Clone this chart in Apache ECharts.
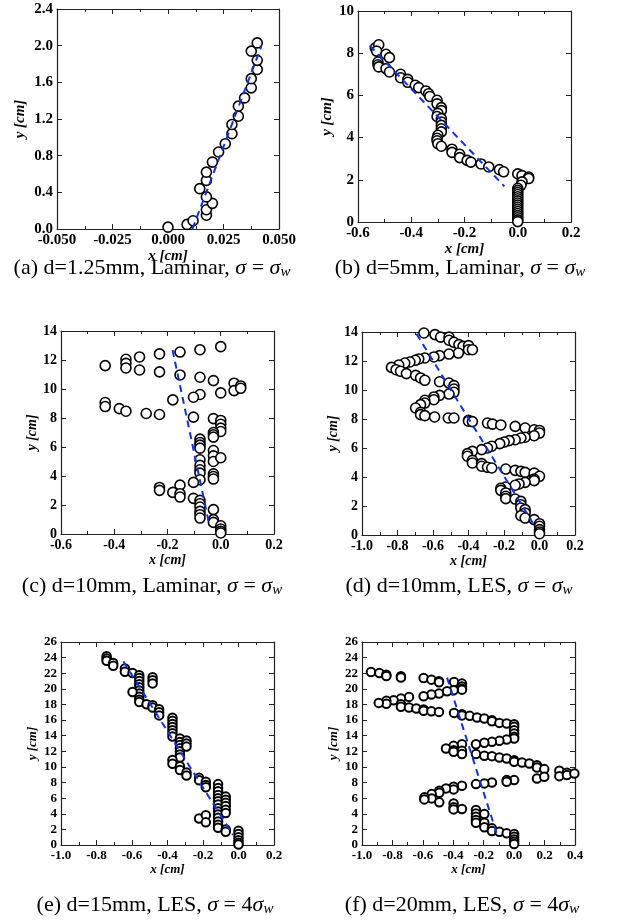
<!DOCTYPE html>
<html><head><meta charset="utf-8">
<script src="https://cdn.jsdelivr.net/npm/echarts@6/dist/echarts.min.js"></script>
<style>html,body{margin:0;padding:0;background:#fff}#c{width:618px;height:923px}</style>
</head><body><div id="c"></div>
<script>
// ---------- DATA ----------
// (a) d=1.25mm, Laminar
const aX = [0.000,0.0086,0.0113,0.0173,0.0173,0.020,0.0173,0.0143,0.0173,0.0173,0.020,0.0228,0.0258,0.0288,0.0288,0.0317,0.0317,0.0345,0.0375,0.0375,0.0402,0.0402,0.0375,0.0402];
const aY = [0.02,0.05,0.09,0.15,0.21,0.28,0.35,0.44,0.53,0.62,0.73,0.84,0.93,1.04,1.14,1.23,1.34,1.43,1.54,1.64,1.74,1.84,1.94,2.03];
const aFitX = [0.011, 0.042];
const aFitY = [0.0, 1.99];

// (b) d=5mm, Laminar
const bX = [-0.535,-0.522,-0.530,-0.495,-0.482,-0.525,-0.525,-0.522,-0.495,-0.482,-0.44,-0.44,-0.413,-0.413,-0.385,-0.372,-0.345,-0.335,-0.330,-0.303,-0.303,-0.287,-0.287,-0.30,-0.303,-0.287,-0.287,-0.287,-0.287,-0.287,-0.30,-0.303,-0.303,-0.30,-0.287,-0.247,-0.247,-0.218,-0.218,-0.19,-0.176,-0.138,-0.109,-0.069,-0.053,0.0,0.016,0.041,0.041,0.016,0.012,0,0,0,0,0,0,0,0,0,0,0,0,0,0,0,0,0];
const bY = [8.25,8.40,8.10,7.95,7.79,7.58,7.45,7.35,7.27,7.11,7.0,6.84,6.76,6.62,6.48,6.37,6.21,6.08,5.95,5.77,5.60,5.42,5.28,5.15,5.0,4.90,4.74,4.58,4.42,4.27,4.11,3.97,3.85,3.71,3.59,3.45,3.30,3.21,3.05,2.92,2.84,2.75,2.61,2.48,2.38,2.28,2.20,2.13,2.06,1.90,1.74,1.60,1.50,1.40,1.30,1.20,1.10,1.00,0.90,0.80,0.70,0.60,0.50,0.40,0.30,0.20,0.10,0.02];
const bFitX = [-0.556, -0.05];
const bFitY = [8.37, 1.69];

// (c) d=10mm, Laminar
const cX = [-0.434,-0.356,-0.356,-0.356,-0.305,-0.305,-0.23,-0.23,-0.153,-0.153,-0.078,-0.078,0.0,-0.0275,0.05,0.05,0.075,0.075,0.0,-0.078,-0.1025,-0.18,-0.434,-0.434,-0.381,-0.356,-0.28,-0.23,-0.1025,-0.0275,0,0,0,0,-0.0275,-0.0275,-0.0275,-0.078,-0.078,-0.078,-0.078,-0.0275,-0.0275,-0.0275,0,-0.078,-0.078,-0.078,-0.078,-0.0275,-0.0275,-0.0275,-0.078,-0.1025,-0.153,-0.23,-0.23,-0.18,-0.153,-0.153,-0.1025,-0.078,-0.078,-0.078,-0.078,-0.078,-0.078,-0.0275,-0.0275,-0.0275,0,0,0,0];
const cY = [11.61,12.05,11.77,11.45,12.21,11.31,12.42,11.18,12.55,10.97,12.71,10.81,12.92,10.58,10.40,9.89,10.21,10.05,9.73,9.62,9.43,9.25,9.07,8.79,8.65,8.47,8.31,8.24,8.06,7.96,7.83,7.57,7.30,7.07,7.0,6.84,6.68,6.54,6.31,6.13,5.92,5.76,5.39,5.0,5.26,5.12,4.73,4.43,4.2,4.15,3.97,3.79,3.74,3.56,3.37,3.21,3.01,2.87,2.78,2.55,2.46,2.32,2.09,1.86,1.56,1.33,1.10,1.68,0.99,0.80,0.57,0.34,0.18,0.07];
const cFitX = [-0.181, -0.044];
const cFitY = [12.69, 0.71];

// (d) d=10mm, LES
const dX = [-0.651,-0.589,-0.557,-0.51,-0.51,-0.482,-0.454,-0.431,-0.40,-0.40,-0.378,-0.457,-0.51,-0.563,-0.595,-0.646,-0.68,-0.70,-0.73,-0.759,-0.793,-0.834,-0.808,-0.783,-0.75,-0.698,-0.67,-0.646,-0.563,-0.51,-0.482,-0.482,-0.482,-0.51,-0.563,-0.595,-0.595,-0.646,-0.646,-0.67,-0.698,-0.67,-0.67,-0.646,-0.591,-0.514,-0.482,-0.40,-0.40,-0.378,-0.293,-0.265,-0.218,-0.137,-0.081,-0.03,0.0,0.0,-0.03,-0.081,-0.105,-0.137,-0.171,-0.199,-0.224,-0.269,-0.293,-0.326,-0.378,-0.406,-0.406,-0.378,-0.378,-0.326,-0.326,-0.293,-0.269,-0.19,-0.137,-0.105,-0.081,-0.03,0.0,-0.03,-0.03,-0.081,-0.115,-0.137,-0.19,-0.218,-0.218,-0.19,-0.19,-0.19,-0.137,-0.105,-0.105,-0.105,-0.081,-0.081,-0.105,-0.081,-0.03,0,0,0,0,0];
const dY = [13.93,13.82,13.65,13.65,13.43,13.29,13.13,13.01,13.06,12.78,12.78,12.55,12.48,12.37,12.28,12.21,12.14,12.05,11.93,11.86,11.72,11.56,11.40,11.29,11.13,11.01,10.83,10.67,10.57,10.48,10.30,10.07,9.84,9.72,9.63,9.52,9.33,9.29,9.10,8.99,8.76,8.46,8.30,8.23,8.14,8.07,8.07,7.91,7.85,7.82,7.72,7.65,7.59,7.49,7.38,7.26,7.21,7.03,6.85,6.74,6.69,6.57,6.51,6.41,6.30,6.12,6.0,5.89,5.77,5.61,5.43,5.15,4.97,4.92,4.74,4.67,4.62,4.55,4.46,4.39,4.32,4.27,4.05,3.86,3.75,3.63,3.52,3.43,3.31,3.22,3.08,2.90,2.67,2.51,2.48,2.32,2.09,1.86,1.75,1.52,1.33,1.17,1.06,0.78,0.60,0.37,0.21,0.09];
const dFitX = [-0.693, -0.035];
const dFitY = [13.87, 0.78];

// (e) d=15mm, LES
const eX = [-0.743,-0.743,-0.743,-0.706,-0.706,-0.64,-0.64,-0.597,-0.559,-0.559,-0.559,-0.559,-0.559,-0.559,-0.559,-0.559,-0.559,-0.559,-0.597,-0.518,-0.484,-0.484,-0.447,-0.447,-0.447,-0.484,-0.484,-0.484,-0.372,-0.372,-0.372,-0.372,-0.372,-0.372,-0.372,-0.33,-0.33,-0.33,-0.33,-0.33,-0.33,-0.33,-0.293,-0.293,-0.293,-0.372,-0.372,-0.33,-0.33,-0.293,-0.293,-0.222,-0.222,-0.184,-0.184,-0.184,-0.115,-0.115,-0.115,-0.115,-0.115,-0.115,-0.115,-0.115,-0.115,-0.115,-0.115,-0.115,-0.115,-0.115,-0.072,-0.072,-0.072,-0.072,-0.072,-0.072,-0.222,-0.184,-0.184,-0.072,-0.072,0,0,0,0,0,0];
const eY = [24.17,23.9,23.6,23.3,22.95,22.6,22.2,22.04,21.74,21.4,21.0,20.6,20.2,19.8,19.4,19.0,18.6,18.3,19.6,18.03,17.9,17.6,17.39,17.0,16.6,21.5,21.1,20.7,16.3,15.9,15.5,15.1,14.7,14.3,13.9,13.64,13.2,12.8,12.4,12.0,11.6,11.2,13.4,13.0,12.6,10.9,10.4,10.1,9.6,9.3,8.9,8.6,8.3,8.1,7.7,7.4,7.8,7.3,6.9,6.4,6.0,5.6,5.2,4.7,4.3,3.9,3.5,3.0,2.6,2.2,6.2,5.8,5.4,5.0,4.5,4.1,3.4,3.8,2.9,2.0,1.7,1.83,1.4,1.0,0.6,0.3,0.05];
const eFitX = [-0.649, -0.031];
const eFitY = [23.53, 1.28];

// (f) d=20mm, LES
const fX = [-0.941,-0.886,-0.84,-0.84,-0.744,-0.744,-0.595,-0.544,-0.494,-0.494,-0.395,-0.343,-0.343,-0.343,-0.343,-0.398,-0.441,-0.494,-0.544,-0.595,-0.691,-0.744,-0.792,-0.84,-0.84,-0.89,-0.744,-0.744,-0.691,-0.643,-0.595,-0.595,-0.544,-0.494,-0.395,-0.343,-0.343,-0.292,-0.244,-0.196,-0.146,-0.146,-0.097,-0.049,0,0,0,0,0,0,-0.049,-0.097,-0.146,-0.196,-0.251,-0.343,-0.398,-0.448,-0.398,-0.398,-0.343,-0.343,-0.251,-0.196,-0.146,-0.097,-0.049,0,0,0.052,0.10,0.15,0.15,0.198,0.15,0.198,0.297,0.297,0.347,0.347,0.396,0,-0.049,-0.049,-0.146,-0.196,-0.251,-0.343,-0.398,-0.398,-0.448,-0.492,-0.492,-0.542,-0.542,-0.59,-0.59,-0.492,-0.398,-0.398,-0.398,-0.343,-0.251,-0.251,-0.251,-0.251,-0.251,-0.196,-0.196,-0.196,-0.146,-0.146,-0.097,-0.049,0,0,0,0,0];
const fY = [22.16,22.04,21.82,21.65,21.61,21.45,21.4,21.18,20.97,20.85,20.89,20.67,20.3,20.0,19.9,19.82,19.69,19.39,19.27,19.05,18.97,18.75,18.54,18.46,18.1,18.2,18.03,17.7,17.6,17.48,17.35,17.2,17.13,17.05,16.92,16.75,16.6,16.54,16.32,16.2,15.98,15.85,15.64,15.56,15.47,15.13,14.71,14.28,13.85,13.64,13.51,13.34,13.21,13.09,12.91,12.91,12.7,12.36,12.15,11.94,12.06,11.64,11.64,11.42,11.38,11.21,11.08,10.87,10.66,10.57,10.44,10.23,9.93,9.72,8.52,8.74,9.51,8.82,9.25,8.95,9.16,8.31,8.31,8.1,8.01,7.89,7.8,7.59,7.46,7.12,7.25,6.95,6.69,6.52,5.97,6.1,5.84,5.46,5.33,4.82,4.56,4.6,4.48,4.05,3.62,3.2,2.86,3.96,2.86,2.26,2.13,1.79,1.7,1.49,1.41,1.07,0.72,0.43,0.13];
const fFitX = [-0.441, -0.115];
const fFitY = [21.44, 1.49];

// Axis ranges & tick labels
const xRanges = [[-0.05,0.05,0.025,3],[-0.6,0.2,0.2,1],[-0.6,0.2,0.2,1],[-1.0,0.2,0.2,1],[-1.0,0.2,0.2,1],[-1.0,0.4,0.2,1]];
const yRanges = [[0,2.4,0.4,1],[0,10,2,0],[0,14,2,0],[0,14,2,0],[0,26,2,0],[0,26,2,0]];
const captions = [
  '(a) d=1.25mm, Laminar, {i|σ} = {i|σ}{s|w}',
  '(b) d=5mm, Laminar, {i|σ} = {i|σ}{s|w}',
  '(c) d=10mm, Laminar, {i|σ} = {i|σ}{s|w}',
  '(d) d=10mm, LES, {i|σ} = {i|σ}{s|w}',
  '(e) d=15mm, LES, {i|σ} = 4{i|σ}{s|w}',
  '(f) d=20mm, LES, {i|σ} = 4{i|σ}{s|w}'
];

// ---------- LAYOUT ----------
const gridBoxes = [
  {left:57, top:9, width:222, height:220},
  {left:358, top:11, width:213, height:211},
  {left:61, top:331, width:213, height:203},
  {left:362, top:332, width:213, height:203},
  {left:61, top:642, width:213, height:203},
  {left:362, top:642, width:213, height:203}
];
const labelSize = [15,15,14,14,13,13];
const xNameGap = [19,18,18,18,16,16];
const yNameGap = [29,22,19,21,22,22];
const capPos = [[152,268],[460,268],[152,586],[459,586],[155,905],[462,905]];
const symSize = [10,10,10,10,8.5,8.5];
const symBorder = [1.6,1.6,1.6,1.6,2,2];

const seriesX = [aX,bX,cX,dX,eX,fX];
const seriesY = [aY,bY,cY,dY,eY,fY];
const fitX = [aFitX,bFitX,cFitX,dFitX,eFitX,fFitX];
const fitY = [aFitY,bFitY,cFitY,dFitY,eFitY,fFitY];

const FONT = 'Liberation Serif';
const CAP = 22;
const xAxis = [], yAxis = [], series = [], grid = [], graphic = [];

for (let i = 0; i < 6; i++) {
  grid.push(Object.assign({containLabel:false}, gridBoxes[i]));
  const [x0,x1,xi,xd] = xRanges[i];
  const [y0,y1,yi,yd] = yRanges[i];
  const common = {
    axisLine:{show:true, onZero:false, lineStyle:{color:'#222', width:1.2}},
    splitLine:{show:false},
    axisTick:{show:true, inside:true, length:5, lineStyle:{color:'#222', width:1}}
  };
  const xb = Object.assign({}, common, {
    type:'value', gridIndex:i, position:'bottom', min:x0, max:x1, interval:xi,
    minorTick:{show:true, splitNumber:2, length:3, lineStyle:{color:'#222'}},
    minorSplitLine:{show:false},
    axisLabel:{show:true, margin:4, color:'#000', fontFamily:FONT, fontWeight:'bold', fontSize:labelSize[i],
      formatter: v => v.toFixed(xd)},
    name:'x [cm]', nameLocation:'middle', nameGap:xNameGap[i],
    nameTextStyle:{color:'#000', fontFamily:FONT, fontWeight:'bold', fontStyle:'italic', fontSize:labelSize[i]}
  });
  const xt = Object.assign({}, common, {
    type:'value', gridIndex:i, position:'top', min:x0, max:x1, interval:xi,
    minorTick:{show:true, splitNumber:2, length:3, lineStyle:{color:'#222'}},
    axisLabel:{show:false}
  });
  const yl = Object.assign({}, common, {
    type:'value', gridIndex:i, position:'left', min:y0, max:y1, interval:yi,
    axisLabel:{show:true, margin:4, color:'#000', fontFamily:FONT, fontWeight:'bold', fontSize:labelSize[i],
      formatter: v => v.toFixed(yd)},
    name:'y [cm]', nameLocation:'middle', nameGap:yNameGap[i], nameRotate:90,
    nameTextStyle:{color:'#000', fontFamily:FONT, fontWeight:'bold', fontStyle:'italic', fontSize:labelSize[i]}
  });
  const yr = Object.assign({}, common, {
    type:'value', gridIndex:i, position:'right', min:y0, max:y1, interval:yi,
    axisLabel:{show:false}
  });
  xAxis.push(xb, xt);
  yAxis.push(yl, yr);

  const pts = seriesX[i].map((x,k) => [x, seriesY[i][k]]);
  series.push({
    type:'scatter', xAxisIndex:2*i, yAxisIndex:2*i, data:pts, symbol:'circle', symbolSize:symSize[i],
    itemStyle:{color:'#fff', borderColor:'#000', borderWidth:symBorder[i], opacity:1}, z:2, silent:true
  });
  series.push({
    type:'line', xAxisIndex:2*i, yAxisIndex:2*i, data:fitX[i].map((x,k)=>[x, fitY[i][k]]),
    showSymbol:false, symbol:'none', lineStyle:{color:'#1432dc', width:2, type:[7,5]}, z:3, silent:true
  });

  graphic.push({
    type:'text', x:capPos[i][0], y:capPos[i][1], silent:true,
    style:{
      text:captions[i], align:'center', verticalAlign:'middle',
      fontFamily:FONT, fontSize:CAP, fill:'#000',
      rich:{
        i:{fontFamily:FONT, fontSize:CAP, fontStyle:'italic', fill:'#000', lineHeight:24},
        s:{fontFamily:FONT, fontSize:15, fontStyle:'italic', fill:'#000', lineHeight:15, verticalAlign:'bottom'}
      }
    }
  });
}

const chart = echarts.init(document.getElementById('c'), null, {renderer:'canvas'});
chart.setOption({
  animation:false,
  backgroundColor:'#fff',
  grid, xAxis, yAxis, series, graphic
});
</script></body></html>
